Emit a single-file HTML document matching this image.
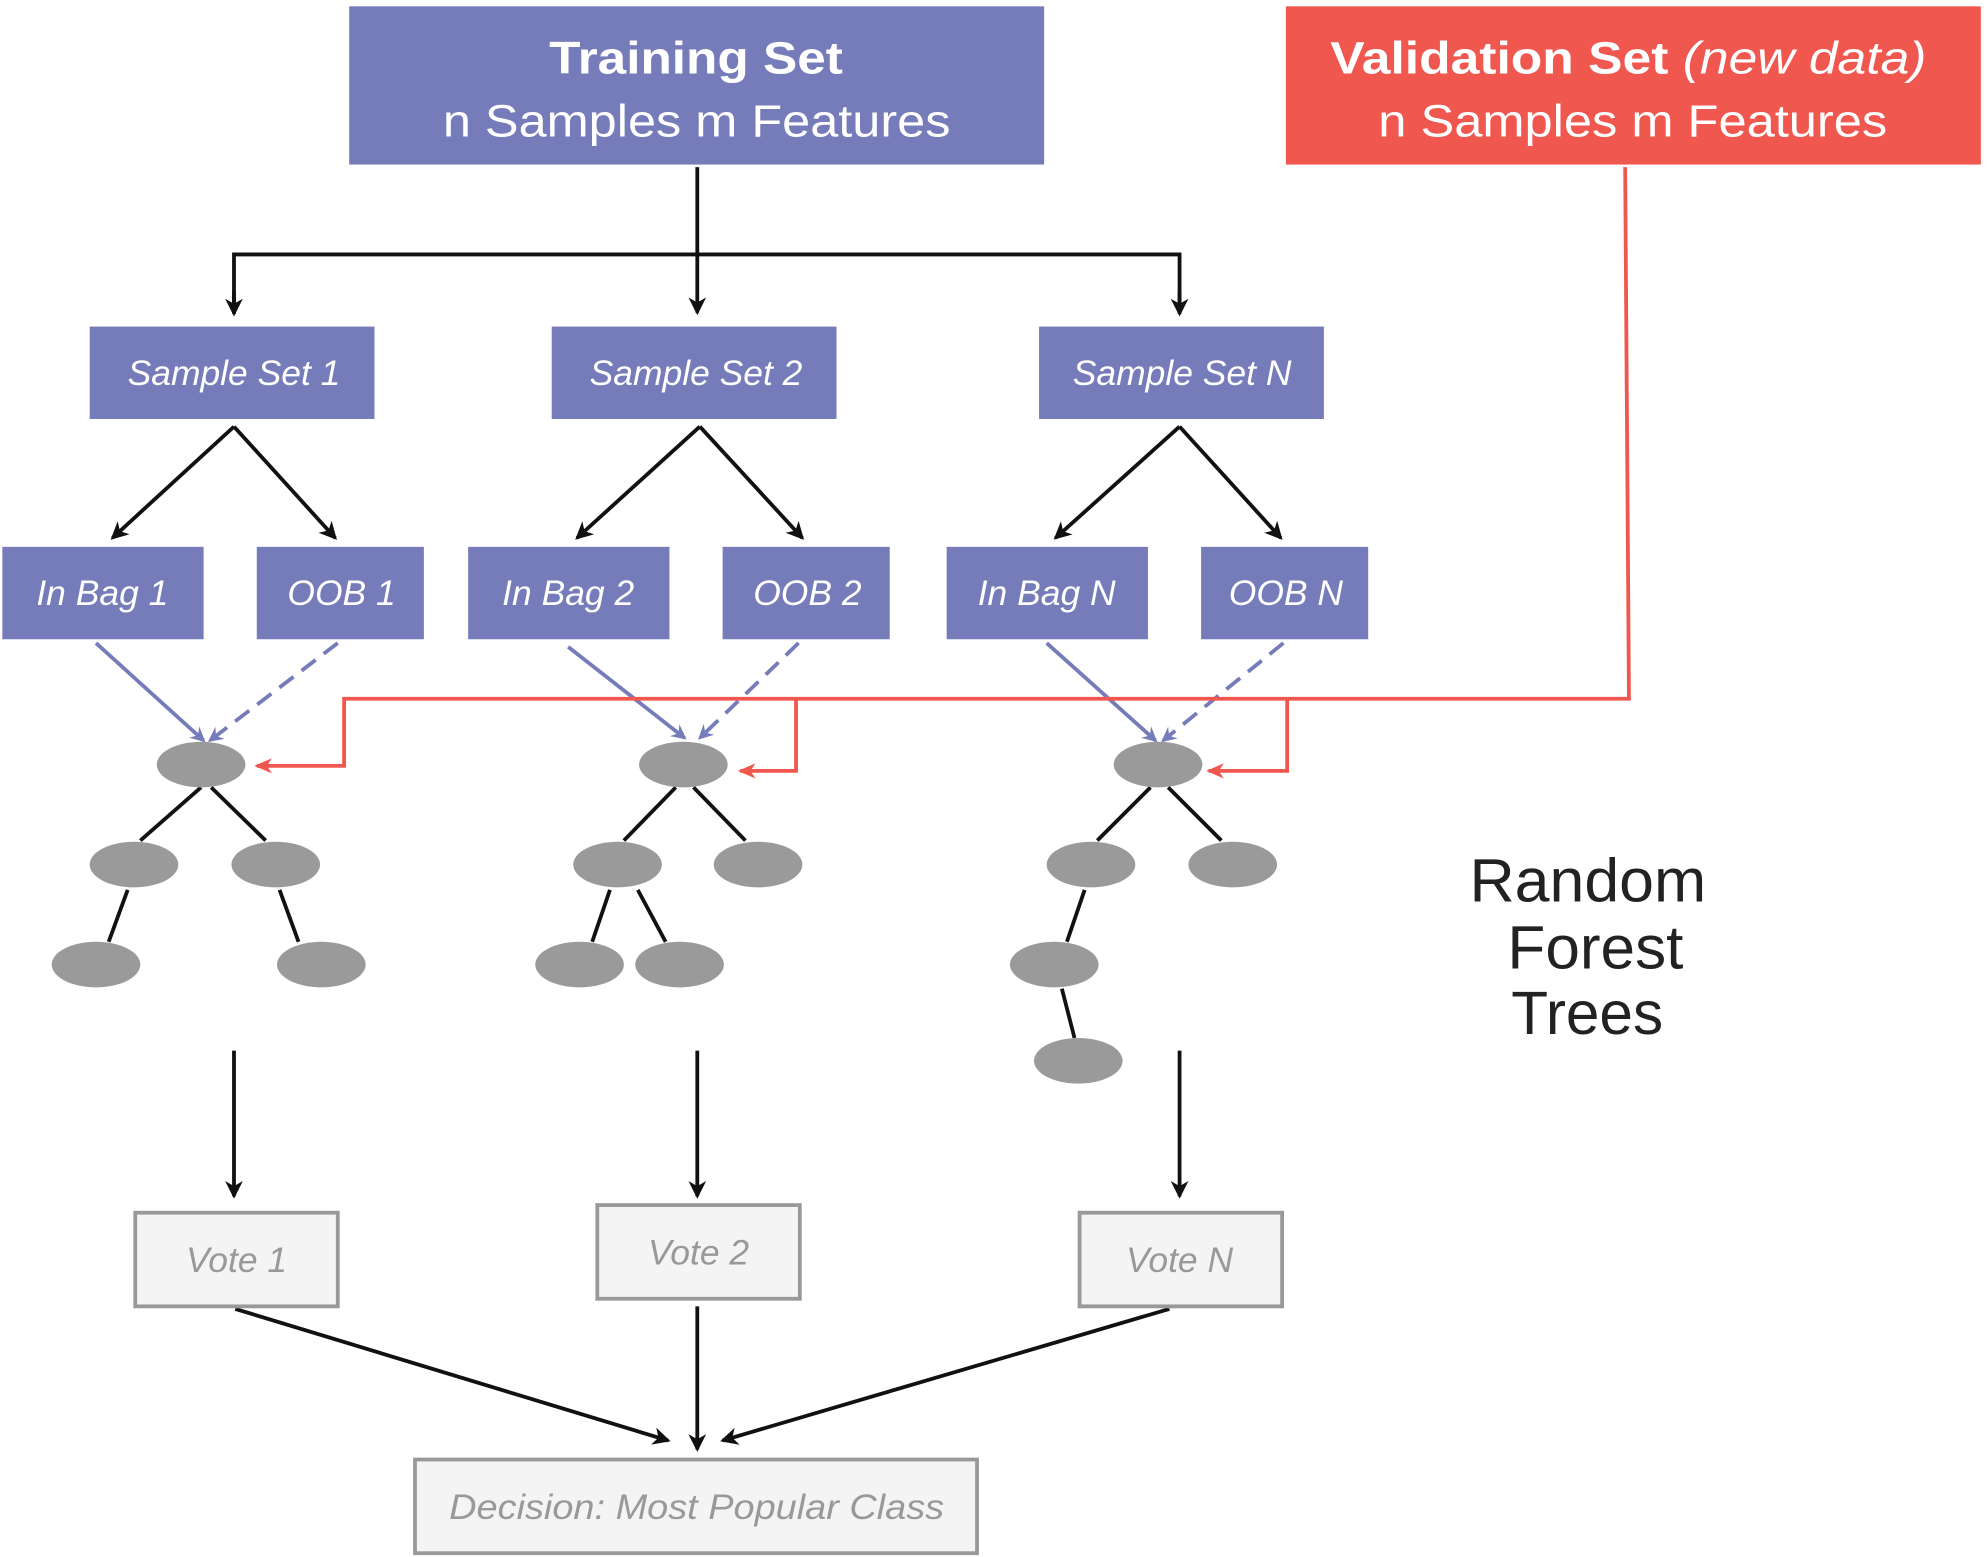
<!DOCTYPE html>
<html><head><meta charset="utf-8"><style>
html,body{margin:0;padding:0;background:#fff;}
svg{display:block;}
text{font-family:"Liberation Sans",sans-serif;}
</style></head><body>
<svg width="1987" height="1557" viewBox="0 0 1568 1230" xmlns="http://www.w3.org/2000/svg" xml:space="preserve">
<defs>
<marker id="ak" markerWidth="14" markerHeight="14" refX="12" refY="7" orient="auto" markerUnits="userSpaceOnUse" viewBox="0 0 14 14"><path d="M0,0 L14,7 L0,14 L4,7 z" fill="#111"/></marker>
<marker id="ab" markerWidth="12" markerHeight="12" refX="10" refY="6" orient="auto" markerUnits="userSpaceOnUse" viewBox="0 0 12 12"><path d="M0,0 L12,6 L0,12 L4,6 z" fill="#767bba"/></marker>
<marker id="ar" markerWidth="14" markerHeight="12" refX="12" refY="6" orient="auto" markerUnits="userSpaceOnUse" viewBox="0 0 14 12"><path d="M0,0 L14,6 L0,12 L4,6 z" fill="#f0574e"/></marker>
</defs>
<rect x="275" y="5" width="549" height="125" fill="#767bba"/>
<text x="433" y="58" font-size="36" font-weight="bold" fill="#fff" textLength="232" lengthAdjust="spacingAndGlyphs">Training Set</text>
<text x="349" y="108" font-size="36" fill="#fff" textLength="401" lengthAdjust="spacingAndGlyphs">n Samples  m Features</text>
<rect x="1015" y="5" width="549" height="125" fill="#f0574e"/>
<text x="1050" y="58" font-size="36" fill="#fff" textLength="471" lengthAdjust="spacingAndGlyphs"><tspan font-weight="bold">Validation Set </tspan><tspan font-style="italic">(new data)</tspan></text>
<text x="1088" y="108" font-size="36" fill="#fff" textLength="402" lengthAdjust="spacingAndGlyphs">n Samples  m Features</text>
<g stroke="#111" stroke-width="3" fill="none">
<line x1="550" y1="132" x2="550" y2="247" marker-end="url(#ak)"/>
<polyline points="184,240 184,201 931,201 931,240" />
<line x1="184" y1="230" x2="184" y2="248" marker-end="url(#ak)"/>
<line x1="931" y1="230" x2="931" y2="248" marker-end="url(#ak)"/>
<line x1="184" y1="337" x2="88" y2="425" marker-end="url(#ak)"/>
<line x1="184" y1="337" x2="264" y2="425" marker-end="url(#ak)"/>
<line x1="552" y1="337" x2="455" y2="425" marker-end="url(#ak)"/>
<line x1="552" y1="337" x2="633" y2="425" marker-end="url(#ak)"/>
<line x1="931" y1="337" x2="833" y2="425" marker-end="url(#ak)"/>
<line x1="931" y1="337" x2="1011" y2="425" marker-end="url(#ak)"/>
</g>
<g fill="#767bba">
<rect x="70" y="258" width="225" height="73"/><rect x="435" y="258" width="225" height="73"/><rect x="820" y="258" width="225" height="73"/>
<rect x="1" y="432" width="159" height="73"/><rect x="202" y="432" width="132" height="73"/>
<rect x="369" y="432" width="159" height="73"/><rect x="570" y="432" width="132" height="73"/>
<rect x="747" y="432" width="159" height="73"/><rect x="948" y="432" width="132" height="73"/>
</g>
<g fill="#fff" font-size="28" font-style="italic" text-anchor="middle">
<text x="184" y="304">Sample Set 1</text><text x="549" y="304">Sample Set 2</text><text x="933" y="304">Sample Set N</text>
<text x="80" y="478">In Bag 1</text><text x="269" y="478">OOB 1</text>
<text x="448" y="478">In Bag 2</text><text x="637" y="478">OOB 2</text>
<text x="826" y="478">In Bag N</text><text x="1015" y="478">OOB N</text>
</g>
<g stroke="#767bba" stroke-width="3">
<line x1="75" y1="508" x2="160" y2="585" marker-end="url(#ab)"/>
<line x1="266" y1="508" x2="165" y2="585" stroke-dasharray="14,8" marker-end="url(#ab)"/>
<line x1="448" y1="511" x2="540" y2="583" marker-end="url(#ab)"/>
<line x1="630" y1="508" x2="552" y2="583" stroke-dasharray="14,8" marker-end="url(#ab)"/>
<line x1="826" y1="508" x2="912" y2="585" marker-end="url(#ab)"/>
<line x1="1013" y1="508" x2="918" y2="585" stroke-dasharray="14,8" marker-end="url(#ab)"/>
</g>
<g stroke="#f0574e" stroke-width="3" fill="none">
<polyline points="1283,132 1286,552 271,552 271,605 202,605" marker-end="url(#ar)"/>
<polyline points="628,552 628,609 584,609" marker-end="url(#ar)"/>
<polyline points="1016,552 1016,609 954,609" marker-end="url(#ar)"/>
</g>
<g stroke="#111" stroke-width="3">
<line x1="158" y1="622" x2="110" y2="664"/><line x1="166" y1="622" x2="209" y2="664"/>
<line x1="100" y1="703" x2="85" y2="744"/><line x1="220" y1="703" x2="235" y2="744"/>
<line x1="533" y1="622" x2="492" y2="664"/><line x1="547" y1="622" x2="588" y2="664"/>
<line x1="481" y1="703" x2="467" y2="744"/><line x1="503" y1="703" x2="525" y2="744"/>
<line x1="908" y1="622" x2="866" y2="664"/><line x1="922" y1="622" x2="964" y2="664"/>
<line x1="856" y1="703" x2="842" y2="744"/><line x1="838" y1="781" x2="848" y2="820"/>
</g>
<g fill="#9a9a9a">
<ellipse cx="158" cy="604" rx="35" ry="18"/><ellipse cx="105" cy="683" rx="35" ry="18"/><ellipse cx="217" cy="683" rx="35" ry="18"/>
<ellipse cx="75" cy="762" rx="35" ry="18"/><ellipse cx="253" cy="762" rx="35" ry="18"/>
<ellipse cx="539" cy="604" rx="35" ry="18"/><ellipse cx="487" cy="683" rx="35" ry="18"/><ellipse cx="598" cy="683" rx="35" ry="18"/>
<ellipse cx="457" cy="762" rx="35" ry="18"/><ellipse cx="536" cy="762" rx="35" ry="18"/>
<ellipse cx="914" cy="604" rx="35" ry="18"/><ellipse cx="861" cy="683" rx="35" ry="18"/><ellipse cx="973" cy="683" rx="35" ry="18"/>
<ellipse cx="832" cy="762" rx="35" ry="18"/><ellipse cx="851" cy="838" rx="35" ry="18"/>
</g>
<g fill="#222" font-size="48">
<text x="1160" y="712" textLength="187" lengthAdjust="spacingAndGlyphs">Random</text>
<text x="1190" y="765" textLength="139" lengthAdjust="spacingAndGlyphs">Forest</text>
<text x="1193" y="817" textLength="120" lengthAdjust="spacingAndGlyphs">Trees</text>
</g>
<g stroke="#111" stroke-width="3">
<line x1="184" y1="830" x2="184" y2="945" marker-end="url(#ak)"/>
<line x1="550" y1="830" x2="550" y2="945" marker-end="url(#ak)"/>
<line x1="931" y1="830" x2="931" y2="945" marker-end="url(#ak)"/>
<line x1="185" y1="1034" x2="527" y2="1138" marker-end="url(#ak)"/>
<line x1="550" y1="1032" x2="550" y2="1145" marker-end="url(#ak)"/>
<line x1="923" y1="1034" x2="570" y2="1138" marker-end="url(#ak)"/>
</g>
<g fill="#f4f4f4" stroke="#999" stroke-width="3">
<rect x="106" y="958" width="160" height="74"/><rect x="471" y="952" width="160" height="74"/><rect x="852" y="958" width="160" height="74"/>
<rect x="327" y="1153" width="444" height="74"/>
</g>
<g fill="#999" font-size="28" font-style="italic" text-anchor="middle">
<text x="186" y="1005">Vote 1</text><text x="551" y="999">Vote 2</text><text x="931" y="1005">Vote N</text>
</g>
<text x="354" y="1200" fill="#999" font-size="28" font-style="italic" textLength="391" lengthAdjust="spacingAndGlyphs">Decision: Most Popular Class</text>
</svg>
</body></html>
